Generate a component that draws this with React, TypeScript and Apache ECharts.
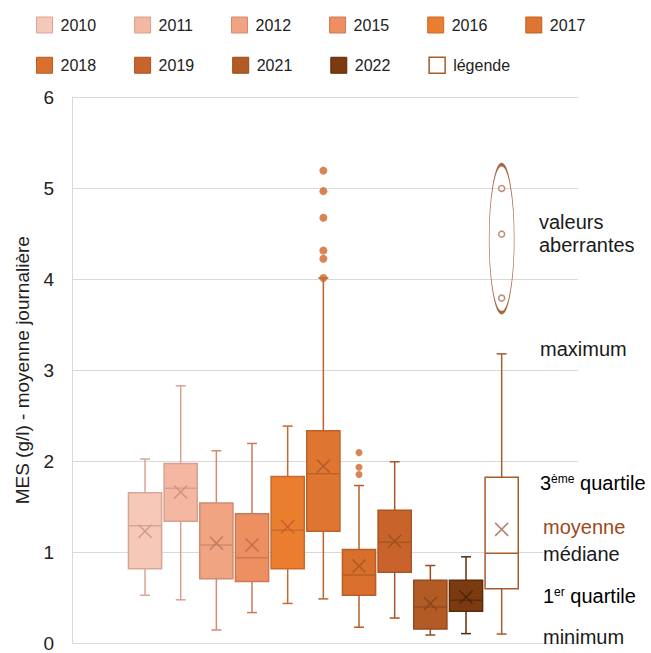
import React, { useEffect, useRef } from 'react';
import * as echarts from 'echarts';

const categories = ['2010', '2011', '2012', '2015', '2016', '2017', '2018', '2019', '2021', '2022', 'légende'];
const minValues = [0.55, 0.5, 0.17, 0.36, 0.46, 0.51, 0.2, 0.3, 0.115, 0.13, 0.125];
const q1Values = [0.84, 1.36, 0.73, 0.7, 0.84, 1.25, 0.55, 0.8, 0.18, 0.375, 0.62];
const medianValues = [1.31, 1.72, 1.1, 0.96, 1.26, 1.88, 0.77, 1.13, 0.42, 0.495, 1.01];
const q3Values = [1.67, 1.99, 1.56, 1.44, 1.85, 2.35, 1.05, 1.48, 0.715, 0.715, 1.84];
const maxValues = [2.04, 2.84, 2.13, 2.21, 2.4, 4.02, 1.75, 2.01, 0.875, 0.97, 3.19];
const meanValues = [1.25, 1.68, 1.12, 1.1, 1.3, 1.96, 0.87, 1.14, 0.46, 0.53, 1.27];
const outliers2017 = [4.02, 4.23, 4.32, 4.68, 4.97, 5.195];
const outliers2018 = [1.87, 1.95, 2.11];
const outliersLegend = [3.8, 4.5, 5.0];
const outlierEllipseCenter = 4.45;

const fillColors = ['#F5C8B8', '#F3B7A2', '#F0A482', '#EE8F62', '#EB7D2F', '#DE7530', '#D86F2C', '#C8642B', '#B35B25', '#7B3A0F', '#FFFFFF'];
const borderColors = ['#D9A596', '#D8A090', '#CF8C72', '#CB7A58', '#C96A2A', '#BE622A', '#B85E26', '#A95525', '#964B1E', '#5E2B0A', '#A45C2C'];
const meanColors = ['#D49A88', '#D0907C', '#C67E64', '#C0704E', '#C0652B', '#B35C28', '#AE5824', '#9E5022', '#8A461C', '#4E2408', '#B88070'];

const FONT = '"Liberation Sans", Arial, sans-serif';

export default function App() {
  const ref = useRef<HTMLDivElement>(null);

  useEffect(() => {
    document.body.style.margin = '0';
    if (!ref.current) return;
    const chart = echarts.init(ref.current, undefined, { renderer: 'svg' });

    const makeRender = (i: number) => (params: any, api: any) => {
      const cat = api.value(0);
      const [cx, yMin] = api.coord([cat, api.value(1)]);
      const yQ1 = api.coord([cat, api.value(2)])[1];
      const yMed = api.coord([cat, api.value(3)])[1];
      const yQ3 = api.coord([cat, api.value(4)])[1];
      const yMax = api.coord([cat, api.value(5)])[1];
      const yMean = api.coord([cat, api.value(6)])[1];
      const band = api.size([1, 0])[0];
      const bw = band * 0.93;
      const lw = 1.5;
      const stroke = borderColors[i];
      const ls = { stroke, lineWidth: lw };
      const cap = 5;
      const xs = 6.5;
      return {
        type: 'group',
        children: [
          { type: 'line', shape: { x1: cx, y1: yMax, x2: cx, y2: yQ3 }, style: ls },
          { type: 'line', shape: { x1: cx - cap, y1: yMax, x2: cx + cap, y2: yMax }, style: ls },
          { type: 'line', shape: { x1: cx, y1: yQ1, x2: cx, y2: yMin }, style: ls },
          { type: 'line', shape: { x1: cx - cap, y1: yMin, x2: cx + cap, y2: yMin }, style: ls },
          {
            type: 'rect',
            shape: { x: cx - bw / 2, y: yQ3, width: bw, height: yQ1 - yQ3 },
            style: { fill: fillColors[i], stroke, lineWidth: lw },
          },
          { type: 'line', shape: { x1: cx - bw / 2, y1: yMed, x2: cx + bw / 2, y2: yMed }, style: ls },
          {
            type: 'line',
            shape: { x1: cx - xs, y1: yMean - xs, x2: cx + xs, y2: yMean + xs },
            style: { stroke: meanColors[i], lineWidth: 1.5 },
          },
          {
            type: 'line',
            shape: { x1: cx - xs, y1: yMean + xs, x2: cx + xs, y2: yMean - xs },
            style: { stroke: meanColors[i], lineWidth: 1.5 },
          },
        ],
      };
    };

    const boxSeries = categories.map((c, i) => ({
      type: 'custom',
      name: c,
      xAxisIndex: 1,
      yAxisIndex: 1,
      renderItem: makeRender(i),
      encode: { x: 0, y: [1, 2, 3, 4, 5, 6] },
      itemStyle: { color: fillColors[i], borderColor: borderColors[i] },
      data: [[c, minValues[i], q1Values[i], medianValues[i], q3Values[i], maxValues[i], meanValues[i]]],
      z: 2,
    }));

    const legendItem = (c: string) => {
      const i = categories.indexOf(c);
      return {
        name: c,
        itemStyle: { color: fillColors[i], borderColor: borderColors[i], borderWidth: c === 'légende' ? 1.5 : 1 },
      };
    };

    const legendCommon = {
      icon: 'rect',
      itemWidth: 16,
      itemHeight: 16,
      itemGap: 38,
      left: 36,
      padding: 0,
      orient: 'horizontal',
      selectedMode: false,
      textStyle: { fontSize: 16, color: '#222', fontFamily: FONT, padding: [0, 0, 0, 3] },
    };

    const annot = (text: string, x: number, y: number, color = '#1a1a1a', extra: any = {}) => ({
      type: 'text',
      x,
      y,
      style: {
        text,
        fill: color,
        font: `20px ${FONT}`,
        verticalAlign: 'middle',
        align: 'left',
        ...extra,
      },
      z: 10,
    });

    const richSup = {
      n: { fontSize: 20, fontFamily: FONT, color: '#1a1a1a', verticalAlign: 'bottom' },
      s: { fontSize: 12, fontFamily: FONT, color: '#1a1a1a', verticalAlign: 'top' },
    };

    const option: any = {
      animation: false,
      backgroundColor: '#ffffff',
      legend: [
        { ...legendCommon, top: 16.5, data: categories.slice(0, 6).map(legendItem) },
        { ...legendCommon, top: 56.5, data: categories.slice(6).map(legendItem) },
      ],
      grid: [
        { left: 72, right: 73, top: 97, bottom: 7.5 },
        { left: 127.2, right: 131.5, top: 97, bottom: 7.5 },
      ],
      xAxis: [
        { gridIndex: 0, type: 'category', data: [''], show: false },
        { gridIndex: 1, type: 'category', data: categories, show: false, boundaryGap: true },
      ],
      yAxis: [
        {
          gridIndex: 0,
          type: 'value',
          min: 0,
          max: 6,
          interval: 1,
          name: 'MES (g/l) - moyenne journalière',
          nameLocation: 'middle',
          nameGap: 40,
          nameTextStyle: { fontSize: 19, color: '#222', fontFamily: FONT },
          axisLine: { show: true, lineStyle: { color: '#d9d9d9', width: 1 } },
          axisTick: { show: false },
          axisLabel: { fontSize: 19, color: '#222', fontFamily: FONT, margin: 18 },
          splitLine: { show: true, lineStyle: { color: '#d9d9d9', width: 1 } },
        },
        { gridIndex: 1, type: 'value', min: 0, max: 6, show: false, splitLine: { show: false } },
      ],
      series: [
        ...boxSeries,
        {
          type: 'scatter',
          name: '2017',
          xAxisIndex: 1,
          yAxisIndex: 1,
          symbol: 'circle',
          symbolSize: 8,
          itemStyle: { color: '#CC6628' },
          data: outliers2017.map((v) => ['2017', v]),
          z: 5,
        },
        {
          type: 'scatter',
          name: '2018',
          xAxisIndex: 1,
          yAxisIndex: 1,
          symbol: 'circle',
          symbolSize: 7,
          itemStyle: { color: '#CC6628' },
          data: outliers2018.map((v) => ['2018', v]),
          z: 5,
        },
        {
          type: 'scatter',
          name: 'légende',
          xAxisIndex: 1,
          yAxisIndex: 1,
          symbol: 'circle',
          symbolSize: 6,
          itemStyle: { color: '#ffffff', borderColor: '#B07060', borderWidth: 1.5 },
          data: outliersLegend.map((v) => ['légende', v]),
          z: 5,
        },
        {
          type: 'scatter',
          name: 'légende',
          xAxisIndex: 1,
          yAxisIndex: 1,
          symbol: 'path://M0,50 A50,50 0 1 1 100,50 A50,50 0 1 1 0,50 Z',
          symbolSize: [25, 148],
          itemStyle: { color: 'rgba(0,0,0,0)', borderColor: '#8E4418', borderWidth: 1.5 },
          data: [['légende', outlierEllipseCenter]],
          z: 4,
        },
      ],
      graphic: [
        annot('valeurs\naberrantes', 539, 233.5, '#1a1a1a', { lineHeight: 23 }),
        annot('maximum', 540, 349),
        {
          type: 'text',
          x: 540,
          y: 483,
          z: 10,
          style: { text: '{n|3}{s|ème}{n| quartile}', rich: richSup, verticalAlign: 'middle', align: 'left' },
        },
        annot('moyenne', 543, 526.5, '#9C4A1A'),
        annot('médiane', 543, 554, '#1a1a1a', { backgroundColor: '#ffffff' }),
        {
          type: 'text',
          x: 543,
          y: 596,
          z: 10,
          style: { text: '{n|1}{s|er}{n| quartile}', rich: richSup, verticalAlign: 'middle', align: 'left' },
        },
        annot('minimum', 543, 636.5),
      ],
    };

    chart.setOption(option);
    return () => chart.dispose();
  }, []);

  return <div ref={ref} style={{ width: 651, height: 653 }} />;
}
